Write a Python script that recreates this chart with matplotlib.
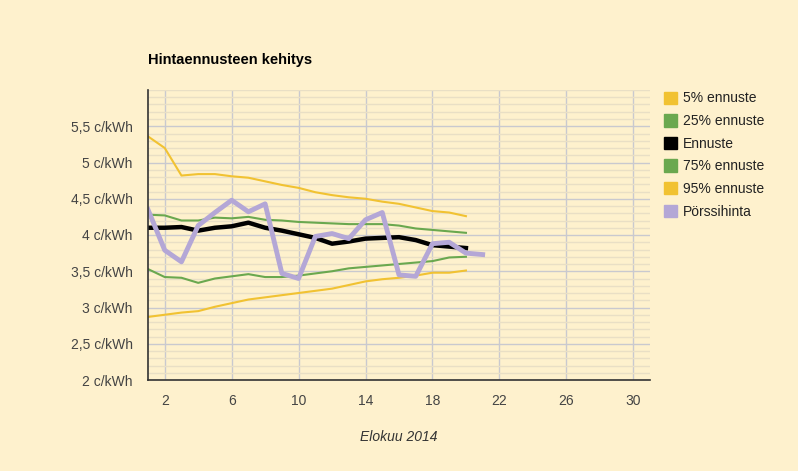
import matplotlib.pyplot as plt
from matplotlib.patches import Patch
from matplotlib.ticker import MultipleLocator, FuncFormatter

plt.rcParams['font.family'] = ['Liberation Sans', 'DejaVu Sans']

# Hintaennuste, elokuu 2014
days = list(range(1, 21))
p5 = [5.36, 5.20, 4.82, 4.84, 4.84, 4.81, 4.79, 4.74, 4.69, 4.65,
      4.59, 4.55, 4.52, 4.50, 4.46, 4.43, 4.38, 4.33, 4.31, 4.26]
p25 = [4.28, 4.27, 4.20, 4.20, 4.24, 4.23, 4.25, 4.21, 4.20, 4.18,
       4.17, 4.16, 4.15, 4.15, 4.15, 4.13, 4.09, 4.07, 4.05, 4.03]
ennuste = [4.10, 4.10, 4.11, 4.06, 4.10, 4.12, 4.17, 4.10, 4.06, 4.01,
           3.96, 3.88, 3.91, 3.95, 3.96, 3.97, 3.93, 3.86, 3.84, 3.82]
p75 = [3.53, 3.42, 3.41, 3.34, 3.40, 3.43, 3.46, 3.42, 3.42, 3.44,
       3.47, 3.50, 3.54, 3.56, 3.58, 3.60, 3.62, 3.64, 3.69, 3.70]
p95 = [2.87, 2.90, 2.93, 2.95, 3.01, 3.06, 3.11, 3.14, 3.17, 3.20,
       3.23, 3.26, 3.31, 3.36, 3.39, 3.41, 3.44, 3.48, 3.48, 3.51]
spot_days = list(range(1, 22))
spot = [4.35, 3.79, 3.63, 4.13, 4.31, 4.48, 4.32, 4.43, 3.47, 3.40,
        3.98, 4.02, 3.95, 4.21, 4.31, 3.45, 3.43, 3.88, 3.90, 3.75, 3.73]

bg = '#FEF1CD'
yellow = '#F1C232'
green = '#6AA84F'
purple = '#B4A7D6'

fig = plt.figure(figsize=(7.98, 4.71), dpi=100, facecolor=bg)
ax = fig.add_axes([148 / 798, 91 / 471, 502 / 798, 290 / 471])
ax.set_facecolor(bg)

ax.plot(days, p5, color=yellow, lw=1.5)
ax.plot(days, p25, color=green, lw=1.5)
ax.plot(days, ennuste, color='black', lw=3.2)
ax.plot(days, p75, color=green, lw=1.5)
ax.plot(days, p95, color=yellow, lw=1.5)
ax.plot(spot_days, spot, color=purple, lw=3.5)

ax.set_xlim(1, 31)
ax.set_ylim(2, 6)
ax.set_xticks(range(2, 31, 4))
ax.yaxis.set_minor_locator(MultipleLocator(0.1))
ax.set_yticks([2, 2.5, 3, 3.5, 4, 4.5, 5, 5.5])
ax.yaxis.set_major_formatter(FuncFormatter(
    lambda v, p: ('%g c/kWh' % v).replace('.', ',')))

ax.grid(True, which='major', color='#C9C9CF', lw=1)
ax.grid(True, which='minor', axis='y', color='#E9DFC5', lw=1)
ax.set_axisbelow(True)
ax.tick_params(which='both', length=0, labelsize=10, colors='#444444')
ax.tick_params(axis='y', pad=11)
ax.tick_params(axis='x', pad=10)
for s in ['top', 'right']:
    ax.spines[s].set_visible(False)
for s in ['left', 'bottom']:
    ax.spines[s].set_color('#333333')
    ax.spines[s].set_linewidth(1.2)

fig.text(148 / 798, 1 - 60 / 471, 'Hintaennusteen kehitys', fontsize=10.5,
         fontweight='bold', va='center', ha='left')
fig.text(399 / 798, 1 - 437 / 471, 'Elokuu 2014', fontsize=10,
         style='italic', color='#333333', ha='center', va='center')

labels = ['5% ennuste', '25% ennuste', 'Ennuste', '75% ennuste',
          '95% ennuste', 'Pörssihinta']
colors = [yellow, green, 'black', green, yellow, purple]
handles = [Patch(facecolor=c, edgecolor=c) for c in colors]
leg = fig.legend(handles, labels, loc='upper left',
                 bbox_to_anchor=(651 / 798, 1 - 79 / 471), frameon=False,
                 fontsize=10, handlelength=1.0, handleheight=1.0,
                 handletextpad=0.4, labelspacing=0.62)
for t in leg.get_texts():
    t.set_color('#222222')

fig.savefig('out.png', dpi=100, facecolor=bg)
